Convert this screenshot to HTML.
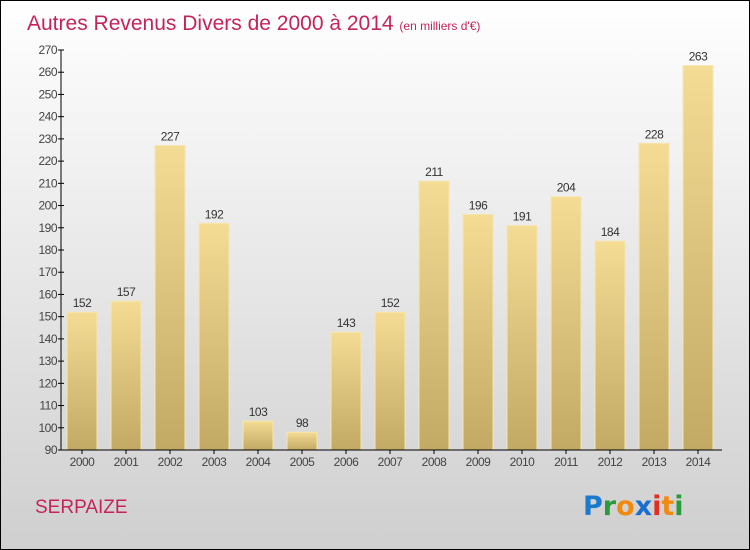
<!DOCTYPE html>
<html><head><meta charset="utf-8"><style>
body{margin:0;width:750px;height:550px;overflow:hidden}
svg{display:block;font-family:"Liberation Sans",sans-serif}
</style></head><body>
<svg width="750" height="550">
<defs>
<linearGradient id="bg" x1="0" y1="0" x2="0" y2="1"><stop offset="0" stop-color="#ffffff"/><stop offset="1" stop-color="#cfcfcf"/></linearGradient>
<linearGradient id="bar" x1="0" y1="0" x2="0" y2="1"><stop offset="0" stop-color="#f4dc95"/><stop offset="1" stop-color="#c2a964"/></linearGradient>
</defs>
<rect x="0.5" y="0.5" width="749" height="549" fill="url(#bg)" stroke="#000"/>
<text x="27" y="30" font-size="21" fill="#c4245a">Autres Revenus Divers de 2000 à 2014 <tspan font-size="12">(en milliers d'€)</tspan></text>
<g id="yaxis"></g>
<g id="bars"></g>
<g id="xaxis"></g>
<text x="35" y="513" font-size="19" fill="#c4245a">SERPAIZE</text>
<text x="583" y="515" font-size="27" font-family="'DejaVu Sans',sans-serif" font-weight="bold"><tspan fill="#1a7ad0">P</tspan><tspan fill="#2a9a3a">r</tspan><tspan fill="#f08a10">o</tspan><tspan fill="#1a6ed0">x</tspan><tspan fill="#e03020">i</tspan><tspan fill="#f08a10">t</tspan><tspan fill="#2a9a3a">i</tspan></text>
</svg>
<script>
const years=["2000","2001","2002","2003","2004","2005","2006","2007","2008","2009","2010","2011","2012","2013","2014"];
const values=[152,157,227,192,103,98,143,152,211,196,191,204,184,228,263];
const yTicks=[90,100,110,120,130,140,150,160,170,180,190,200,210,220,230,240,250,260,270];
const NS="http://www.w3.org/2000/svg";
const y0=450,y1=50,vmin=90,vmax=270;
const yS=v=>y0-(v-vmin)/(vmax-vmin)*(y0-y1);
const xS=i=>82+i*44;
function mk(t,a,p,txt){const e=document.createElementNS(NS,t);for(const k in a)e.setAttribute(k,a[k]);if(txt!==undefined)e.textContent=txt;p.appendChild(e);return e;}
const ya=document.getElementById('yaxis'),ba=document.getElementById('bars'),xa=document.getElementById('xaxis');
const yl=mk('line',{x1:61,y1:y1,x2:61,y2:y0,stroke:'#000'},ya);


yTicks.forEach(v=>{
 const tk=mk('line',{x1:58,x2:64,y1:yS(v),y2:yS(v),stroke:'#000'},ya);
 
 
 const t=mk('text',{x:57,y:yS(v)+4,'font-size':12,fill:'#444','text-anchor':'end','letter-spacing':'-0.5'},ya,v);
 
 
});
values.forEach((v,i)=>{
 const r=mk('rect',{x:xS(i)-15,y:yS(v),width:30,height:y0-yS(v),fill:'url(#bar)',stroke:'#f6e6b0','stroke-width':1},ba);
 
 
 const t=mk('text',{x:xS(i),y:yS(v)-5,'font-size':12,fill:'#333','text-anchor':'middle','letter-spacing':'-0.5'},ba,v);
 
 
});
const xl=mk('line',{x1:61,y1:y0,x2:722,y2:y0,stroke:'#000'},xa);


years.forEach((y,i)=>{
 const tk=mk('line',{x1:xS(i),x2:xS(i),y1:y0,y2:y0+4,stroke:'#000'},xa);
 
 
 const t=mk('text',{x:xS(i),y:466,'font-size':12,fill:'#444','text-anchor':'middle','letter-spacing':'-0.5'},xa,y);
 
 
});
</script>
</body></html>
